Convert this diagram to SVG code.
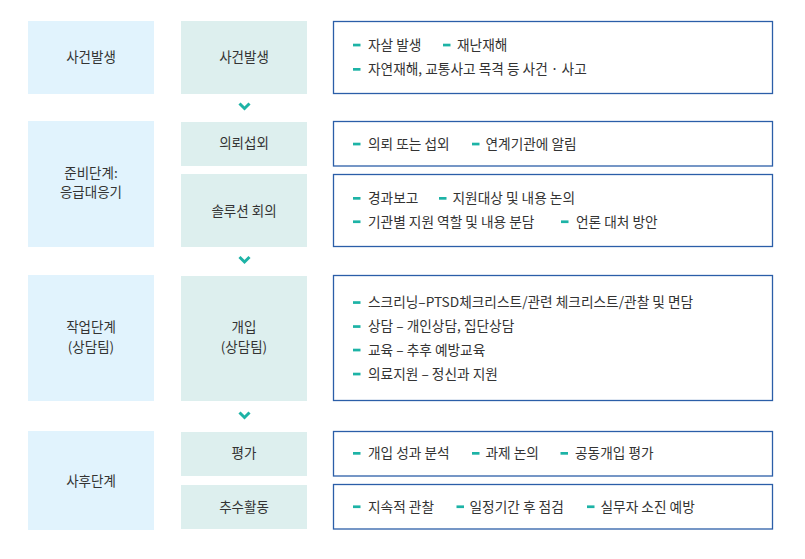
<svg xmlns="http://www.w3.org/2000/svg" width="805" height="559" viewBox="0 0 805 559">
<style>
text{font-family:"Noto Sans CJK KR","Noto Sans",sans-serif;fill:#333;}
.st{font-size:13.5px;text-anchor:middle;}
.it{font-size:13.7px;}
.c1{fill:#e1f3fd;}
.c2{fill:#ddefee;}
.bx{fill:#fff;stroke:#2b5ea8;stroke-width:1.3;}
.dash{fill:#1db3a6;}
.chev{fill:none;stroke:#1db3a6;stroke-width:3;}
</style>
<defs>
<rect id="d" class="dash" x="0" y="-1.3" width="7.5" height="2.7"/>
<path id="v" class="chev" d="M-5,-3 L0,2 L5,-3"/>
</defs>
<rect width="805" height="559" fill="#fff"/>

<g id="connectors">
<use href="#v" x="244.5" y="106.5"/>
<use href="#v" x="244.5" y="260"/>
<use href="#v" x="244.5" y="415.5"/>
</g>

<g id="stage1">
<rect class="c1" x="28" y="21" width="126" height="73"/>
<text class="st" x="91" y="62">사건발생</text>
</g>
<g id="step1">
<rect class="c2" x="181" y="21" width="126" height="73"/>
<text class="st" x="244" y="62">사건발생</text>
</g>
<g id="detail1">
<rect class="bx" x="333.5" y="21.5" width="439" height="72"/>
<use href="#d" x="353" y="45"/><text class="it" x="368" y="49.8">자살 발생</text>
<use href="#d" x="443" y="45"/><text class="it" x="457" y="49.8">재난재해</text>
<use href="#d" x="353" y="69.3"/><text class="it" x="368" y="74.1">자연재해, 교통사고 목격 등 사건 · 사고</text>
</g>

<g id="stage2">
<rect class="c1" x="28" y="121" width="126" height="126"/>
<text class="st" x="91" y="177.8">준비단계:</text>
<text class="st" x="91" y="197.3">응급대응기</text>
</g>
<g id="step2a">
<rect class="c2" x="181" y="122" width="126" height="44"/>
<text class="st" x="244" y="148.2">의뢰섭외</text>
</g>
<g id="step2b">
<rect class="c2" x="181" y="174" width="126" height="73"/>
<text class="st" x="244" y="215.6">솔루션 회의</text>
</g>
<g id="detail2a">
<rect class="bx" x="333.5" y="121.5" width="439" height="44.5"/>
<use href="#d" x="353" y="144"/><text class="it" x="368" y="148.8">의뢰 또는 섭외</text>
<use href="#d" x="472" y="144"/><text class="it" x="485.5" y="148.8">연계기관에 알림</text>
</g>
<g id="detail2b">
<rect class="bx" x="333.5" y="174.5" width="439" height="72"/>
<use href="#d" x="353" y="198.3"/><text class="it" x="368" y="203.1">경과보고</text>
<use href="#d" x="439" y="198.3"/><text class="it" x="452.5" y="203.1">지원대상 및 내용 논의</text>
<use href="#d" x="353" y="221.7"/><text class="it" x="368" y="226.5">기관별 지원 역할 및 내용 분담</text>
<use href="#d" x="561" y="221.7"/><text class="it" x="576" y="226.5">언론 대처 방안</text>
</g>

<g id="stage3">
<rect class="c1" x="28" y="275" width="126" height="126"/>
<text class="st" x="91" y="332.3">작업단계</text>
<text class="st" x="91" y="351.8">(상담팀)</text>
</g>
<g id="step3">
<rect class="c2" x="181" y="276" width="126" height="125"/>
<text class="st" x="244" y="332.3">개입</text>
<text class="st" x="244" y="351.8">(상담팀)</text>
</g>
<g id="detail3">
<rect class="bx" x="333.5" y="275.5" width="439" height="125"/>
<use href="#d" x="353" y="302.5"/><text class="it" x="368" y="307.3">스크리닝–PTSD체크리스트/관련 체크리스트/관찰 및 면담</text>
<use href="#d" x="353" y="326.5"/><text class="it" x="368" y="331.3">상담 – 개인상담, 집단상담</text>
<use href="#d" x="353" y="350"/><text class="it" x="368" y="354.8">교육 – 추후 예방교육</text>
<use href="#d" x="353" y="374"/><text class="it" x="368" y="378.8">의료지원 – 정신과 지원</text>
</g>

<g id="stage4">
<rect class="c1" x="28" y="431" width="126" height="99"/>
<text class="st" x="91" y="485.6">사후단계</text>
</g>
<g id="step4a">
<rect class="c2" x="181" y="432" width="126" height="44"/>
<text class="st" x="244" y="458.2">평가</text>
</g>
<g id="step4b">
<rect class="c2" x="181" y="485" width="126" height="44"/>
<text class="st" x="244" y="511.6">추수활동</text>
</g>
<g id="detail4a">
<rect class="bx" x="333.5" y="431.5" width="439" height="44.5"/>
<use href="#d" x="353" y="453.3"/><text class="it" x="368" y="458.1">개입 성과 분석</text>
<use href="#d" x="472" y="453.3"/><text class="it" x="485.5" y="458.1">과제 논의</text>
<use href="#d" x="560.5" y="453.3"/><text class="it" x="575" y="458.1">공동개입 평가</text>
</g>
<g id="detail4b">
<rect class="bx" x="333.5" y="484.5" width="439" height="44.5"/>
<use href="#d" x="353" y="506.7"/><text class="it" x="368" y="511.5">지속적 관찰</text>
<use href="#d" x="456.5" y="506.7"/><text class="it" x="469.5" y="511.5">일정기간 후 점검</text>
<use href="#d" x="587" y="506.7"/><text class="it" x="600.5" y="511.5">실무자 소진 예방</text>
</g>
</svg>
